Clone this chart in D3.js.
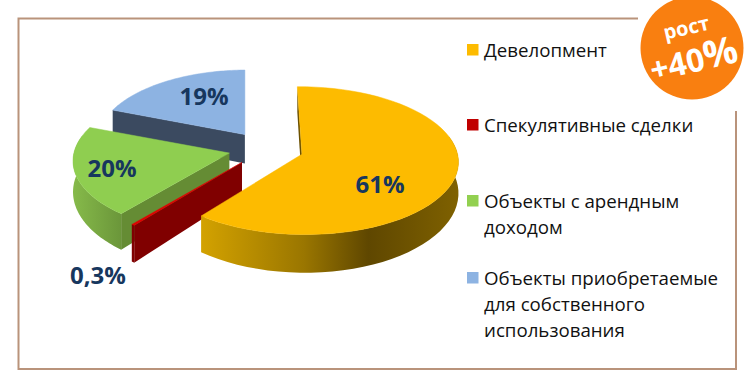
<!DOCTYPE html>
<html>
<head>
<meta charset="utf-8">
<script src="https://cdn.jsdelivr.net/npm/d3@7"></script>
<style>
  html, body { margin: 0; padding: 0; background: #fff; }
  svg { display: block; }
  text { font-family: "Open Sans", "Noto Sans", sans-serif; }
</style>
</head>
<body>
<div id="chart"></div>
<script>
// Data
const categories = ["Девелопмент", "Спекулятивные сделки", "Объекты с арендным доходом", "Объекты приобретаемые для собственного использования"];
const shares = [61, 0.3, 20, 19];
const shareLabels = ["61%", "0,3%", "20%", "19%"];
const legendLines = [["Девелопмент"], ["Спекулятивные сделки"], ["Объекты с арендным", "доходом"], ["Объекты приобретаемые", "для собственного", "использования"]];

const width = 750, height = 381;

// Colours per slice: top face, radial face, outer wall gradient stops
const colors = [
  { top: "#fdbb00", side: "#6b5000", wall: [["0%", "#d3a200"], ["40%", "#9a7600"], ["65%", "#5f4700"], ["100%", "#7f6100"]], legend: "#fdbb00" },
  { top: "#e00000", side: "#800000", wall: [["0%", "#800000"], ["100%", "#800000"]], legend: "#c00000" },
  { top: "#8fce50", side: "#658c34", wall: [["0%", "#86ba4a"], ["100%", "#6b963a"]], legend: "#92d050" },
  { top: "#8db3e2", side: "#3b4a60", wall: [["0%", "#3b4a60"], ["100%", "#3b4a60"]], legend: "#8db3e2" },
];
// sideways squeeze of each wedge
const rimWidth = [0.985, 1, 0.985, 0.95];

// Fake 3D pie: ground plane (u right, v back) projected with a little perspective
const cx = 266, cy = 148.6, R = 157, tilt = 0.461, persp = 0.086;
const explode = 0.24;
const depth = 30, depthPersp = 0.2;

const project = (u, v) => [cx + R * u / (1 + persp * v), cy - R * tilt * v / (1 + persp * v)];
const wallDepth = v => depth / (1 + depthPersp * v);

const pie = d3.pie().sort(null).startAngle(-0.012).endAngle(2 * Math.PI - 0.012);
const arcs = pie(shares);

const svg = d3.select("#chart").append("svg").attr("width", width).attr("height", height);
const defs = svg.append("defs");
const line = d3.line();

// Frame
svg.append("path")
  .attr("d", "M638,18.5H18.5V369H736V111")
  .attr("fill", "none")
  .attr("stroke", "#b9937b")
  .attr("stroke-width", 2);

function sliceGeometry(d, i) {
  const mid = (d.startAngle + d.endAngle) / 2;
  const ou = explode * Math.sin(mid), ov = explode * Math.cos(mid);
  const rim = d3.range(0, 61).map(k => {
    const a = d.startAngle + (d.endAngle - d.startAngle) * k / 60;
    return { u: ou + rimWidth[i] * Math.sin(a), v: ov + Math.cos(a), a };
  });
  return { apex: { u: ou, v: ov }, rim };
}
const topPoint = p => project(p.u, p.v);
const bottomPoint = p => { const q = project(p.u, p.v); return [q[0], q[1] + wallDepth(p.v)]; };

// Draw back to front: blue, green, red, yellow
[3, 2, 1, 0].forEach(i => {
  const d = arcs[i];
  const g = sliceGeometry(d, i);
  const c = colors[i];
  const layer = svg.append("g");

  // gradient for the outer wall, across the slice's width
  const xs = g.rim.map(p => topPoint(p)[0]);
  const grad = defs.append("linearGradient")
    .attr("id", "wall" + i)
    .attr("gradientUnits", "userSpaceOnUse")
    .attr("x1", d3.min(xs)).attr("x2", d3.max(xs)).attr("y1", 0).attr("y2", 0);
  c.wall.forEach(s => grad.append("stop").attr("offset", s[0]).attr("stop-color", s[1]));

  // radial face at the start angle (the one that faces the viewer)
  const first = g.rim[0];
  layer.append("path")
    .attr("d", line([topPoint(g.apex), topPoint(first), bottomPoint(first), bottomPoint(g.apex)]) + "Z")
    .attr("fill", c.side);

  // outer wall
  const front = g.rim.filter(p => Math.cos(p.a) < 0.25);
  if (front.length > 1 && i !== 3) {
    const pts = front.map(topPoint).concat(front.slice().reverse().map(bottomPoint));
    layer.append("path").attr("d", line(pts) + "Z").attr("fill", `url(#wall${i})`);
  }

  // top face
  const face = [topPoint(g.apex)].concat(g.rim.map(topPoint));
  layer.append("path")
    .attr("d", line(face) + "Z")
    .attr("fill", c.top)
    .attr("stroke", c.top)
    .attr("stroke-width", i === 1 ? 0.4 : 0.5);
});

// Data labels
const labelPos = [[380, 184], [98, 275], [112, 168], [204, 96]];
svg.append("g").selectAll("text")
  .data(shareLabels)
  .join("text")
  .attr("x", (d, i) => labelPos[i][0])
  .attr("y", (d, i) => labelPos[i][1] + 9)
  .attr("text-anchor", "middle")
  .attr("font-size", 24)
  .attr("font-weight", 700)
  .attr("fill", "#17375e")
  .text(d => d);

// Legend
const legendBaselines = [57, 132, 208, 285];
const legend = svg.append("g").selectAll("g")
  .data(legendLines)
  .join("g");
legend.append("rect")
  .attr("x", 467)
  .attr("y", (d, i) => legendBaselines[i] - 13)
  .attr("width", 11.5)
  .attr("height", 11.5)
  .attr("fill", (d, i) => colors[i].legend);
legend.each(function (lines, i) {
  d3.select(this).selectAll("text")
    .data(lines)
    .join("text")
    .attr("x", 484)
    .attr("y", (t, j) => legendBaselines[i] + j * 26)
    .attr("font-size", 18.7)
    .attr("fill", "#111")
    .text(t => t);
});

// "рост +40%" badge
const badge = svg.append("g").attr("transform", "translate(692,48)");
badge.append("circle").attr("r", 51.5).attr("fill", "#f97f10");
const badgeText = badge.append("g").attr("transform", "rotate(-13)").attr("fill", "#fff").attr("text-anchor", "middle").attr("font-weight", 700);
badgeText.append("text").attr("x", -1).attr("y", -14).attr("font-size", 20).text("рост");
const big = badgeText.append("text").attr("x", -1).attr("y", 24).attr("font-size", 32);
big.append("tspan").text("+40");
big.append("tspan").attr("font-size", 38).text("%");
</script>
</body>
</html>
